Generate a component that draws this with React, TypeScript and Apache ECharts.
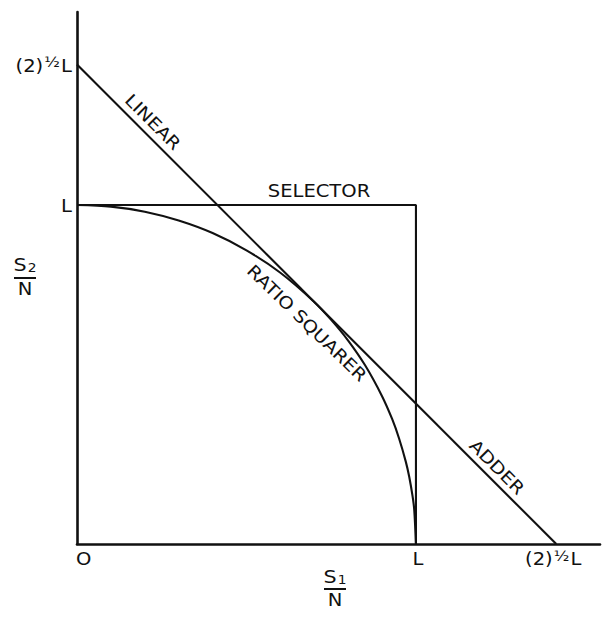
import React, { useEffect, useRef } from 'react';
import * as echarts from 'echarts';

// ---- data (units of L) ----
const linearX = [0, 1.414];
const linearY = [1.414, 0];
const selectorX = [0, 1, 1];
const selectorY = [1, 1, 0];
const squarerX = [0, 0.1, 0.2, 0.3, 0.4, 0.5, 0.6, 0.7, 0.75, 0.8, 0.85, 0.9, 0.93, 0.95, 0.97, 0.98, 0.99, 0.995, 1];
const squarerY = [1, 0.995, 0.98, 0.954, 0.917, 0.866, 0.8, 0.714, 0.661, 0.6, 0.527, 0.436, 0.368, 0.312, 0.243, 0.199, 0.141, 0.1, 0];
const xTickValues = [0, 1, 1.414];
const xTickLabels = ['O', 'L', 'ROOT2L'];
const yTickValues = [1.414, 1];
const yTickLabels = ['ROOT2L', 'L'];
const curveNames = ['LINEAR', 'SELECTOR', 'RATIO SQUARER', 'ADDER'];

const FONT = '"DejaVu Sans", "Liberation Sans", sans-serif';
const INK = '#111';
const SX = 1.15;

function zip(xs: number[], ys: number[]) {
  return xs.map((x, i) => [x, ys[i]]);
}

function tickText(label: string) {
  return label === 'ROOT2L' ? '{a|(2)}{s|½}{a|L}' : '{a|' + label + '}';
}

const rich = {
  a: { fontSize: 17, fontFamily: FONT, fill: INK, color: INK, lineHeight: 20 },
  s: { fontSize: 14, fontFamily: FONT, fill: INK, color: INK, verticalAlign: 'top', lineHeight: 20, padding: [0, 1, 7, 1] },
};

export default function App() {
  const ref = useRef<HTMLDivElement>(null);
  useEffect(() => {
    document.body.style.margin = '0';
    if (!ref.current) return;
    const chart = echarts.init(ref.current, null, { renderer: 'svg' });
    const axisLine = { show: true, onZero: true, lineStyle: { color: INK, width: 2.6 } };
    const lineStyle = { color: INK, width: 2.1 };
    chart.setOption({
      animation: false,
      backgroundColor: '#fff',
      grid: { left: 77, top: 12, right: 4, bottom: 74 },
      xAxis: {
        type: 'value', min: 0, max: 1.543,
        axisLine, axisTick: { show: false }, axisLabel: { show: false }, splitLine: { show: false },
      },
      yAxis: {
        type: 'value', min: 0, max: 1.569,
        axisLine, axisTick: { show: false }, axisLabel: { show: false }, splitLine: { show: false },
      },
      series: [
        { name: curveNames[0], type: 'line', data: zip(linearX, linearY), symbol: 'none', lineStyle },
        { name: curveNames[1], type: 'line', data: zip(selectorX, selectorY), symbol: 'none', lineStyle },
        { name: curveNames[2], type: 'line', data: zip(squarerX, squarerY), symbol: 'none', smooth: 0.3, lineStyle },
      ],
    });

    const textStyle = (text: string, align: string, vAlign = 'middle', size = 16) => ({
      text, align, verticalAlign: vAlign, fontSize: size, fontFamily: FONT, fill: INK,
    });
    const g: any[] = [];
    xTickValues.forEach((v, i) => {
      const p = chart.convertToPixel({ gridIndex: 0 }, [v, 0]) as number[];
      const isFirst = i === 0;
      g.push({
        type: 'text',
        x: isFirst ? p[0] - 1 : p[0] + (i === 1 ? 2 : -3),
        y: p[1] + 15,
        scaleX: SX,
        style: { text: tickText(xTickLabels[i]), rich, align: isFirst ? 'left' : 'center', verticalAlign: 'middle', fill: INK },
      });
    });
    yTickValues.forEach((v, i) => {
      const p = chart.convertToPixel({ gridIndex: 0 }, [0, v]) as number[];
      g.push({
        type: 'text',
        x: p[0] - 5,
        y: p[1] + 1,
        scaleX: SX,
        style: { text: tickText(yTickLabels[i]), rich, align: 'right', verticalAlign: 'middle', fill: INK },
      });
    });
    // curve names
    const r45 = -Math.PI / 4;
    g.push({ type: 'text', x: 153, y: 122, rotation: r45, scaleX: SX, style: textStyle(curveNames[0], 'center', 'middle', 17) });
    g.push({ type: 'text', x: 319, y: 191, scaleX: SX, style: textStyle(curveNames[1], 'center', 'middle', 17) });
    g.push({ type: 'text', x: 307, y: 323, rotation: -0.77, scaleX: SX, style: textStyle(curveNames[2], 'center', 'middle', 17) });
    g.push({ type: 'text', x: 497, y: 467, rotation: r45, scaleX: SX, style: textStyle(curveNames[3], 'center', 'middle', 17) });
    // axis titles as fractions
    const fracRich = {
      S: { fontSize: 18, fontFamily: FONT, fill: INK, color: INK, lineHeight: 18 },
      sub: { fontSize: 12, fontFamily: FONT, fill: INK, color: INK, verticalAlign: 'bottom', lineHeight: 18, padding: [6, 0, 0, 1] },
    };
    g.push({ type: 'text', x: 25, y: 265, scaleX: SX, style: { text: '{S|S}{sub|2}', rich: fracRich, align: 'center', verticalAlign: 'middle' } });
    g.push({ type: 'line', shape: { x1: 14, y1: 278, x2: 36, y2: 278 }, style: { stroke: INK, lineWidth: 2 } });
    g.push({ type: 'text', x: 25, y: 289, scaleX: SX, style: textStyle('N', 'center', 'middle', 17) });
    g.push({ type: 'text', x: 335, y: 577, scaleX: SX, style: { text: '{S|S}{sub|1}', rich: fracRich, align: 'center', verticalAlign: 'middle' } });
    g.push({ type: 'line', shape: { x1: 324, y1: 589, x2: 346, y2: 589 }, style: { stroke: INK, lineWidth: 2 } });
    g.push({ type: 'text', x: 335, y: 600, scaleX: SX, style: textStyle('N', 'center', 'middle', 17) });

    chart.setOption({ graphic: g });
    return () => chart.dispose();
  }, []);
  return <div ref={ref} style={{ width: 604, height: 618 }} />;
}
